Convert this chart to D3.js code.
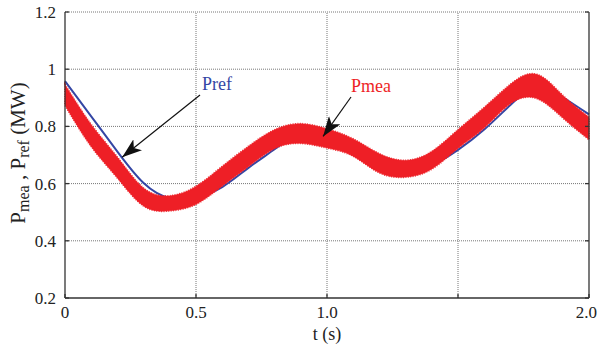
<!DOCTYPE html>
<html><head><meta charset="utf-8">
<script src="https://cdn.jsdelivr.net/npm/d3@7"></script>
<style>body{margin:0;background:#fff}svg{display:block}</style>
</head><body>
<script>
// ---- data ----
const tValues   = [0,0.1,0.2,0.3,0.4,0.5,0.6,0.7,0.8,0.9,1.0,1.1,1.2,1.3,1.4,1.5,1.6,1.7,1.8,1.9,2.0];
const prefVals  = [0.958,0.835,0.712,0.602,0.549,0.552,0.588,0.655,0.720,0.773,0.765,0.735,0.680,0.652,0.666,0.718,0.789,0.875,0.935,0.902,0.842];
const pmeaUpper = [0.946,0.806,0.692,0.584,0.557,0.590,0.660,0.730,0.788,0.809,0.791,0.756,0.704,0.681,0.712,0.788,0.866,0.947,0.982,0.908,0.832];
const pmeaLower = [0.874,0.730,0.620,0.522,0.505,0.528,0.592,0.660,0.723,0.741,0.725,0.696,0.638,0.623,0.651,0.724,0.795,0.880,0.898,0.830,0.754];
const yTicks = [0.2,0.4,0.6,0.8,1,1.2];
const yTickLabels = ["0.2","0.4","0.6","0.8","1","1.2"];
const xTicks = [0,0.5,1,1.5,2];
const xTickLabels = ["0","0.5","1.0","","2.0"];

const W=598,H=347;
const m={l:65,r:9,t:12,b:49};
const svg=d3.select("body").append("svg").attr("width",W).attr("height",H);
const x=d3.scaleLinear().domain([0,2]).range([m.l,W-m.r]);
const y=d3.scaleLinear().domain([0.2,1.2]).range([H-m.b,m.t]);
const font="'Liberation Serif','Times New Roman',serif";

// grid
const g=svg.append("g");
g.selectAll(".gx").data(xTicks.slice(1,-1)).enter().append("line")
 .attr("x1",d=>x(d)).attr("x2",d=>x(d)).attr("y1",y(0.2)).attr("y2",y(1.2))
 .attr("stroke","#777").attr("stroke-width",1).attr("stroke-dasharray","1,1");
g.selectAll(".gy").data(yTicks.slice(1)).enter().append("line")
 .attr("x1",x(0)).attr("x2",x(2)).attr("y1",d=>y(d)).attr("y2",d=>y(d))
 .attr("stroke","#777").attr("stroke-width",1).attr("stroke-dasharray","1,1");

// data
const pts=tValues.map((t,i)=>({t,p:prefVals[i],u:pmeaUpper[i],l:pmeaLower[i]}));
svg.append("path").datum(pts)
 .attr("d",d3.line().x(d=>x(d.t)).y(d=>y(d.p)).curve(d3.curveNatural))
 .attr("fill","none").attr("stroke","#3446a4").attr("stroke-width",2);
const areaGen=d3.area().x(d=>x(d.t)).y0(d=>y(d.l)).y1(d=>y(d.u)).curve(d3.curveNatural);
svg.append("path").datum(pts).attr("d",areaGen)
 .attr("fill","#ee1f26").attr("stroke","#ee1f26").attr("stroke-width",0.6);
svg.append("path").datum(pts).attr("d",areaGen)
 .attr("fill","none").attr("stroke","#ee1f26").attr("stroke-width",2).attr("stroke-dasharray","0.8,1.6");

// axes
const ax=svg.append("g").attr("stroke","#333").attr("stroke-width",1.3).attr("fill","none");
ax.append("line").attr("x1",x(0)).attr("x2",x(0)).attr("y1",y(0.2)).attr("y2",y(1.2));
ax.append("line").attr("x1",x(0)).attr("x2",x(2)).attr("y1",y(0.2)).attr("y2",y(0.2));
ax.append("line").attr("x1",x(2)).attr("x2",x(2)).attr("y1",y(0.2)).attr("y2",y(1.2));
yTicks.forEach(v=>{
  ax.append("line").attr("x1",x(0)).attr("x2",x(0)+4).attr("y1",y(v)).attr("y2",y(v));
  ax.append("line").attr("x1",x(2)).attr("x2",x(2)-4).attr("y1",y(v)).attr("y2",y(v));
});
xTicks.forEach(v=>{
  ax.append("line").attr("x1",x(v)).attr("x2",x(v)).attr("y1",y(0.2)).attr("y2",y(0.2)-4);
});

// tick labels
svg.selectAll(".yl").data(yTicks).enter().append("text")
 .attr("x",x(0)-9).attr("y",d=>y(d)+6).attr("text-anchor","end")
 .attr("font-family",font).attr("font-size",17).attr("fill","#222").text((d,i)=>yTickLabels[i]);
svg.selectAll(".xl").data(xTicks).enter().append("text")
 .attr("x",d=>d===2?W-1:x(d)).attr("y",y(0.2)+20).attr("text-anchor",d=>d===2?"end":"middle")
 .attr("font-family",font).attr("font-size",17).attr("fill","#222").text((d,i)=>xTickLabels[i]);

// axis titles
svg.append("text").attr("x",x(1)).attr("y",340).attr("text-anchor","middle")
 .attr("font-family",font).attr("font-size",18).attr("fill","#222").text("t (s)");
const yl=svg.append("text").attr("transform","translate(25,153) rotate(-90)").attr("text-anchor","middle")
 .attr("font-family",font).attr("font-size",21).attr("fill","#222");
yl.append("tspan").text("P");
yl.append("tspan").attr("font-size",16).attr("dy",4).text("mea");
yl.append("tspan").attr("dy",-4).text(" , P");
yl.append("tspan").attr("font-size",16).attr("dy",4).text("ref");
yl.append("tspan").attr("dy",-4).text("  (MW)");

// annotations
const defs=svg.append("defs");
defs.append("marker").attr("id","ah").attr("viewBox","0 0 20 14").attr("refX",20).attr("refY",7)
 .attr("markerWidth",20).attr("markerHeight",14).attr("markerUnits","userSpaceOnUse").attr("orient","auto")
 .append("path").attr("d","M0,0 L20,7 L0,14 L5,7 Z").attr("fill","#111");
svg.append("line").attr("x1",200).attr("y1",95).attr("x2",x(0.218)).attr("y2",y(0.692))
 .attr("stroke","#111").attr("stroke-width",1.2).attr("marker-end","url(#ah)");
svg.append("line").attr("x1",351).attr("y1",97).attr("x2",x(0.985)).attr("y2",y(0.765))
 .attr("stroke","#111").attr("stroke-width",1.2).attr("marker-end","url(#ah)");
svg.append("text").attr("x",202).attr("y",90).attr("font-family",font).attr("font-size",18)
 .attr("fill","#3446a4").text("Pref");
svg.append("text").attr("x",351).attr("y",92).attr("font-family",font).attr("font-size",18)
 .attr("fill","#ee1f26").text("Pmea");
</script>
</body></html>
